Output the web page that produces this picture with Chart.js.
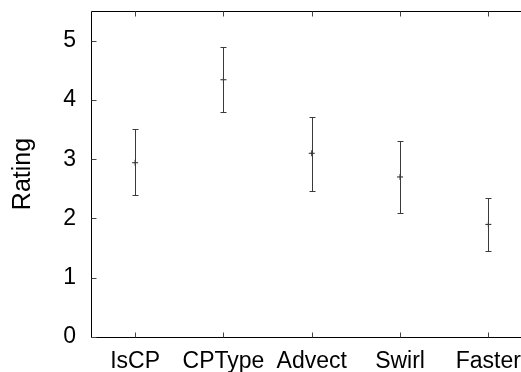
<!DOCTYPE html>
<html>
<head>
<meta charset="utf-8">
<script src="https://cdn.jsdelivr.net/npm/chart.js@4/dist/chart.umd.min.js"></script>
<style>
  html, body { margin: 0; padding: 0; background: #fff; overflow: hidden; }
  #wrap { position: relative; width: 540px; height: 372px; }
</style>
</head>
<body>
<div id="wrap"><canvas id="rating_chart"></canvas></div>
<script>
// categories and values
const categories = ["IsCP", "CPType", "Advect", "Swirl", "Faster"];
const meanRating = [2.94, 4.34, 3.10, 2.70, 1.90];
const upperRating = [3.51, 4.90, 3.72, 3.30, 2.35];
const lowerRating = [2.39, 3.79, 2.47, 2.09, 1.45];
const yTicks = [0, 1, 2, 3, 4, 5];

Chart.defaults.font.family = "'Liberation Sans', Arial, sans-serif";
Chart.defaults.font.size = 23;
Chart.defaults.color = "#000";

// gnuplot style frame with inward ticks
const framePlugin = {
  id: "frame",
  afterDraw(chart) {
    const ctx = chart.ctx;
    const area = chart.chartArea;
    const x = chart.scales.x;
    const y = chart.scales.y;
    const L = Math.round(area.left) + 0.5;
    const T = Math.round(area.top) + 0.5;
    const B = Math.round(area.bottom) + 0.5;
    const R = Math.round(area.right) + 0.5;

    ctx.save();
    ctx.strokeStyle = "#000";
    ctx.lineWidth = 1;
    ctx.beginPath();
    ctx.moveTo(R, T);
    ctx.lineTo(L, T);
    ctx.lineTo(L, B);
    ctx.lineTo(R, B);
    ctx.stroke();

    ctx.strokeStyle = "#444";
    ctx.beginPath();
    y.ticks.forEach((t, i) => {
      const py = Math.round(y.getPixelForTick(i)) + 0.5;
      ctx.moveTo(L, py);
      ctx.lineTo(L + 5, py);
      ctx.moveTo(R, py);
      ctx.lineTo(R - 5, py);
    });
    categories.forEach((c, i) => {
      const px = Math.round(x.getPixelForValue(i)) + 0.5;
      ctx.moveTo(px, B);
      ctx.lineTo(px, B - 5);
      ctx.moveTo(px, T);
      ctx.lineTo(px, T + 5);
    });
    ctx.stroke();
    ctx.restore();
  }
};

// error bars from lower/upper arrays
const errorBarPlugin = {
  id: "errorBars",
  afterDatasetsDraw(chart) {
    const ctx = chart.ctx;
    const x = chart.scales.x;
    const y = chart.scales.y;
    ctx.save();
    ctx.strokeStyle = "#3a3a3a";
    ctx.lineWidth = 1;
    ctx.beginPath();
    categories.forEach((c, i) => {
      const px = Math.round(x.getPixelForValue(i)) + 0.5;
      const hi = Math.round(y.getPixelForValue(upperRating[i])) + 0.5;
      const lo = Math.round(y.getPixelForValue(lowerRating[i])) + 0.5;
      ctx.moveTo(px, hi);
      ctx.lineTo(px, lo);
      ctx.moveTo(px - 3, hi);
      ctx.lineTo(px + 3, hi);
      ctx.moveTo(px - 3, lo);
      ctx.lineTo(px + 3, lo);
    });
    ctx.stroke();
    ctx.restore();
  }
};

const ctx = document.getElementById("rating_chart").getContext("2d");
new Chart(ctx, {
  type: "line",
  data: {
    labels: categories,
    datasets: [{
      label: "Rating",
      data: meanRating,
      showLine: false,
      pointStyle: "cross",
      pointRadius: 3,
      pointBorderWidth: 1,
      pointBorderColor: "#222",
      pointBackgroundColor: "#222"
    }]
  },
  options: {
    responsive: true,
    maintainAspectRatio: false,
    animation: false,
    layout: { padding: { left: 0, right: 7.5, top: 11, bottom: 0 } },
    plugins: {
      legend: { display: false },
      tooltip: { enabled: false }
    },
    scales: {
      x: {
        type: "category",
        offset: true,
        grid: { display: false, drawTicks: false },
        border: { display: false },
        ticks: { padding: 11, maxRotation: 0, autoSkip: false },
        afterFit(scale) {
          scale.height = 35;
          scale.paddingLeft = 0;
          scale.paddingRight = 0;
        }
      },
      y: {
        min: 0,
        max: 5.5,
        grid: { display: false, drawTicks: false },
        border: { display: false },
        afterBuildTicks(scale) {
          scale.ticks = yTicks.map(v => ({ value: v }));
        },
        ticks: { padding: 15 },
        title: {
          display: true,
          text: "Rating",
          font: { size: 25 },
          padding: { top: 8, bottom: 0 }
        },
        afterFit(scale) {
          scale.width = 91;
          scale.paddingTop = 0;
          scale.paddingBottom = 0;
        }
      }
    }
  },
  plugins: [framePlugin, errorBarPlugin]
});
</script>
</body>
</html>
